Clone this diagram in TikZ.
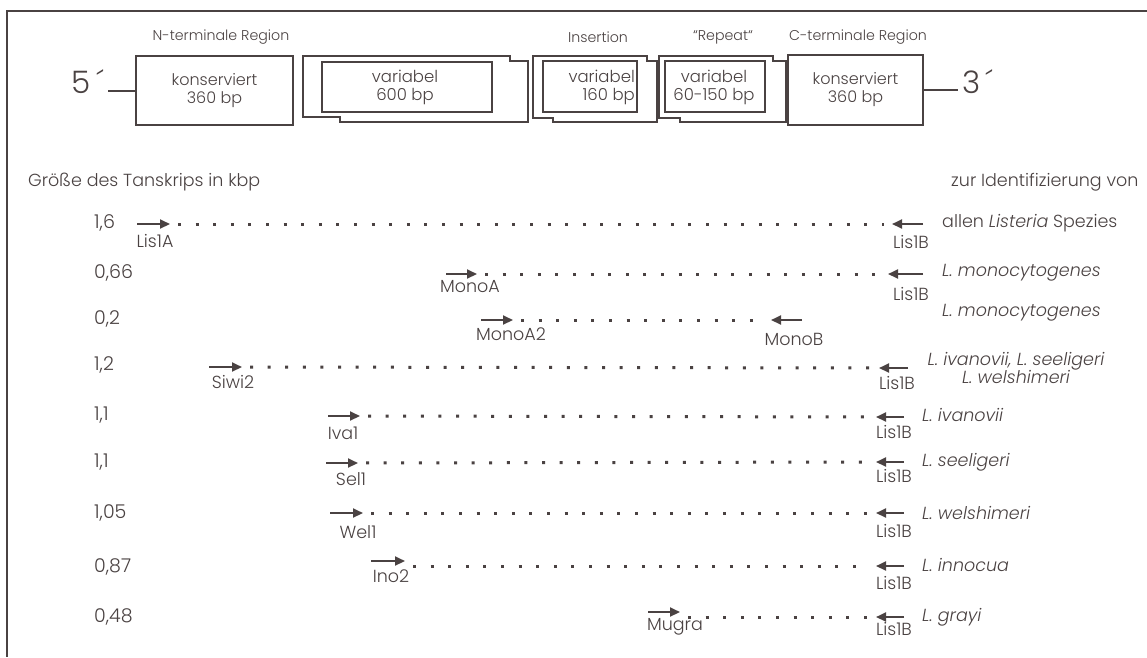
\documentclass[tikz,border=0pt]{standalone}
\usepackage{fontspec}
\setmainfont{Poppins}[UprightFont=* Light,ItalicFont=* Light Italic]
\usetikzlibrary{arrows.meta}
\definecolor{ink}{RGB}{74,66,66}

\begin{document}
\begin{tikzpicture}[x=1pt,y=-1pt,
  txt/.style={text=ink,inner sep=0pt,font=\fontsize{17.5}{18}\selectfont},
  reg/.style={text=ink,inner sep=0pt,font=\fontsize{14.2}{15}\selectfont},
  big/.style={text=ink,inner sep=4pt,font=\fontsize{31}{31}\selectfont},
  plab/.style={text=ink,inner sep=0pt,font=\fontsize{17.5}{18}\selectfont},
  num/.style={text=ink,inner sep=0pt,anchor=west,font=\fontsize{19}{19}\selectfont},
  spec/.style={txt,anchor=west,font=\fontsize{17.5}{18}\selectfont\itshape},
  kbox/.style={draw=ink,line width=2pt,text=ink,align=center,font=\fontsize{16}{18}\selectfont},
  vtext/.style={text=ink,inner sep=0pt,font=\fontsize{16.5}{18}\selectfont},
  outline/.style={draw=ink,line width=2pt},
  primer/.style={draw=ink,line width=2pt,-{Triangle[length=10pt,width=9pt]}},
  dots/.style={draw=ink,line width=3pt,dash pattern=on 3pt off 14.6pt,shorten <=8pt,shorten >=8pt}]
\useasboundingbox (0,0) rectangle (1147,657);

% frame
\draw[ink,line width=2pt] (1147,11) -- (7,11) -- (7,657);

% gene map
\node[reg] (nreg) at (221,37) {N-terminale Region};
\node[reg] (ins) at (598,37) {Insertion};
\node[reg] (rep) at (723,37) {“Repeat“};
\node[reg] (creg) at (858,37) {C-terminale Region};

\node[kbox,minimum width=157pt,minimum height=69pt] (kN) at (214.5,90.5) {konserviert\\360 bp};
\node[kbox,minimum width=135pt,minimum height=70pt] (kC) at (855.5,90) {konserviert\\360 bp};

\node[big] (p5) at (88,82) {5\,´};
\node[big] (p3) at (978,82) {3\,´};
\draw[ink,line width=2pt] (kN.west) -- (kN.west -| p5.east);
\draw[ink,line width=2pt] (kC.east) -- (kC.east -| p3.west);

\draw[outline] (303,56) -- (510,56) -- (510,61) -- (528,61) -- (528,122) -- (340,122) -- (340,117) -- (303,117) -- cycle;
\draw[outline] (322,62) rectangle (492,112);
\node[vtext,align=center] (v600) at (405,87) {variabel\\600 bp};

\draw[outline] (533,56) -- (647,56) -- (647,61) -- (657,61) -- (657,122) -- (553,122) -- (553,118) -- (533,118) -- cycle;
\draw[outline,line width=2.6pt] (543,61) rectangle (637,112);
\node[vtext,align=right,anchor=east] (v160) at (635,87) {variabel\\160 bp};

\draw[outline] (659,56) -- (773,56) -- (773,61) -- (786,61) -- (786,122) -- (680,122) -- (680,118) -- (659,118) -- cycle;
\draw[outline,line width=2.6pt] (665,61) rectangle (765,112);
\node[vtext,align=center] (v150) at (714,87) {variabel\\60-150 bp};

% primer table
\node[txt,anchor=west] (hsize) at (28,182) {Größe des Tanskrips in kbp};
\node[txt,anchor=west] (hid) at (951,182) {zur Identifizierung von};

% 1,6
\node[num] (n1) at (94,223) {1,6};
\coordinate (f1a) at (137,224); \coordinate (f1b) at (170,224);
\coordinate (r1a) at (923,224); \coordinate (r1b) at (892,224);
\draw[primer] (f1a) -- (f1b);
\draw[primer] (r1a) -- (r1b);
\draw[dots] (f1b) -- (r1b);
\node[plab] (l1f) at (155,241) {Lis1A};
\node[plab] (l1r) at (911,242) {Lis1B};
\node[txt,anchor=west] (s1) at (942,223) {allen \textit{Listeria} Spezies};

% 0,66
\node[num] (n2) at (94,273) {0,66};
\coordinate (f2a) at (446,274); \coordinate (f2b) at (477,274);
\coordinate (r2a) at (923,274); \coordinate (r2b) at (888,274);
\draw[primer] (f2a) -- (f2b);
\draw[primer] (r2a) -- (r2b);
\draw[dots] (f2b) -- (r2b);
\node[plab] (l2f) at (470,287) {MonoA};
\node[plab] (l2r) at (911,294) {Lis1B};
\node[spec] (s2) at (942,273) {L. monocytogenes};

% 0,2
\node[num] (n3) at (94,319) {0,2};
\coordinate (f3a) at (481,320); \coordinate (f3b) at (513,320);
\coordinate (r3a) at (802,320); \coordinate (r3b) at (771,320);
\draw[primer] (f3a) -- (f3b);
\draw[primer] (r3a) -- (r3b);
\draw[dots] (f3b) -- (r3b);
\node[plab] (l3f) at (511,334) {MonoA2};
\node[plab] (l3r) at (794,339) {MonoB};
\node[spec] (s3) at (942,313) {L. monocytogenes};

% 1,2
\node[num] (n4) at (94,365) {1,2};
\coordinate (f4a) at (209,367); \coordinate (f4b) at (242,367);
\coordinate (r4a) at (908,368); \coordinate (r4b) at (879,368);
\draw[primer] (f4a) -- (f4b);
\draw[primer] (r4a) -- (r4b);
\draw[dots] (f4b) -- (r4b);
\node[plab] (l4f) at (233,382) {Siwi2};
\node[plab] (l4r) at (897,383) {Lis1B};
\node[txt,align=center,font=\fontsize{17.5}{17}\selectfont\itshape] (s4) at (1016,368) {L. ivanovii, L. seeligeri\\L. welshimeri};

% 1,1
\node[num] (n5) at (94,415) {1,1};
\coordinate (f5a) at (328,416); \coordinate (f5b) at (360,416);
\coordinate (r5a) at (904,417); \coordinate (r5b) at (876,417);
\draw[primer] (f5a) -- (f5b);
\draw[primer] (r5a) -- (r5b);
\draw[dots] (f5b) -- (r5b);
\node[plab] (l5f) at (343,433) {Iva1};
\node[plab] (l5r) at (894,432) {Lis1B};
\node[spec] (s5) at (922,415) {L. ivanovii};

% 1,1
\node[num] (n6) at (94,462) {1,1};
\coordinate (f6a) at (326,463); \coordinate (f6b) at (358,463);
\coordinate (r6a) at (904,462); \coordinate (r6b) at (876,462);
\draw[primer] (f6a) -- (f6b);
\draw[primer] (r6a) -- (r6b);
\draw[dots] (f6b) -- (r6b);
\node[plab] (l6f) at (351,479) {Sel1};
\node[plab] (l6r) at (894,476) {Lis1B};
\node[spec] (s6) at (922,462) {L. seeligeri};

% 1,05
\node[num] (n7) at (94,513) {1,05};
\coordinate (f7a) at (330,513); \coordinate (f7b) at (363,513);
\coordinate (r7a) at (904,513); \coordinate (r7b) at (876,513);
\draw[primer] (f7a) -- (f7b);
\draw[primer] (r7a) -- (r7b);
\draw[dots] (f7b) -- (r7b);
\node[plab] (l7f) at (358,532) {Wel1};
\node[plab] (l7r) at (894,531) {Lis1B};
\node[spec] (s7) at (922,513) {L. welshimeri};

% 0,87
\node[num] (n8) at (94,567) {0,87};
\coordinate (f8a) at (371,561); \coordinate (f8b) at (405,561);
\coordinate (r8a) at (904,566); \coordinate (r8b) at (876,566);
\draw[primer] (f8a) -- (f8b);
\draw[primer] (r8a) -- (r8b);
\draw[dots] (f8b |- r8b) -- (r8b);
\node[plab] (l8f) at (391,576) {Ino2};
\node[plab] (l8r) at (894,583) {Lis1B};
\node[spec] (s8) at (922,565) {L. innocua};

% 0,48
\node[num] (n9) at (94,617) {0,48};
\coordinate (f9a) at (648,612); \coordinate (f9b) at (680,612);
\coordinate (r9a) at (904,617); \coordinate (r9b) at (876,617);
\draw[primer] (f9a) -- (f9b);
\draw[primer] (r9a) -- (r9b);
\draw[dots] (f9b |- r9b) -- (r9b);
\node[plab] (l9f) at (675,627) {Mugra};
\node[plab] (l9r) at (894,629) {Lis1B};
\node[spec] (s9) at (922,617) {L. grayi};
\end{tikzpicture}
\end{document}
